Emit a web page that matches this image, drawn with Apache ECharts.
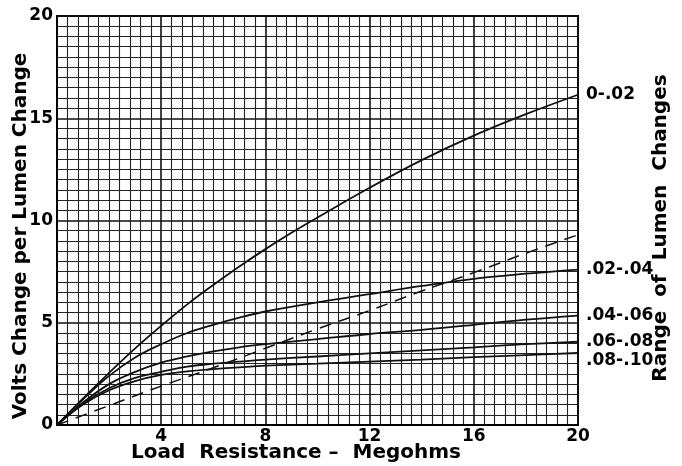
<!DOCTYPE html>
<html><head><meta charset="utf-8">
<script src="https://cdn.jsdelivr.net/npm/echarts@6/dist/echarts.min.js"></script>
<style>html,body{margin:0;padding:0;background:#fff}#c{width:682px;height:466px}</style>
</head><body><div id="c"></div>
<script>
const seriesNames = ["0-.02", ".02-.04", ".04-.06", ".06-.08", ".08-.10"];
const xTop = [0, 1, 2, 3, 4, 5, 6, 7, 8, 9, 10, 12, 14, 16, 18, 20];
const yTop = [0, 1.3, 2.55, 3.75, 4.85, 5.9, 6.85, 7.75, 8.6, 9.4, 10.15, 11.6, 12.95, 14.15, 15.2, 16.15];
const xLow = [0, 1, 2, 3, 4, 5, 6, 7, 8, 10, 12, 14, 16, 18, 20];
const y0204 = [0, 1.25, 2.4, 3.3, 3.95, 4.5, 4.9, 5.25, 5.55, 6.0, 6.4, 6.8, 7.15, 7.4, 7.6];
const y0406 = [0, 1.1, 2.0, 2.6, 3.05, 3.35, 3.6, 3.8, 3.95, 4.2, 4.45, 4.65, 4.9, 5.15, 5.35];
const y0608 = [0, 1.05, 1.8, 2.3, 2.6, 2.85, 3.0, 3.1, 3.2, 3.35, 3.5, 3.65, 3.8, 3.95, 4.07];
const y0810 = [0, 1.0, 1.7, 2.15, 2.45, 2.62, 2.73, 2.82, 2.9, 3.0, 3.1, 3.2, 3.32, 3.42, 3.52];
const xDash = [0, 2, 4, 6, 8, 10, 12, 14, 16, 18, 20];
const yDash = [0, 0.95, 1.9, 2.8, 3.75, 4.7, 5.6, 6.55, 7.45, 8.4, 9.3];
const xTicks = [4, 8, 12, 16, 20];
const yTicks = [0, 5, 10, 15, 20];
const xTitle = 'Load  Resistance –  Megohms';
const yTitle = 'Volts Change per Lumen Change';
const rightTitle = 'Range  of  Lumen  Changes';

const pair = (xs, ys) => xs.map((x, i) => [x, ys[i]]);
const FONT = '"DejaVu Sans", sans-serif';
const lineData = [pair(xTop, yTop), pair(xLow, y0204), pair(xLow, y0406), pair(xLow, y0608), pair(xLow, y0810)];
const labelOffsets = [[0, 0], [0, 0], [0, 0], [0, 0], [0, 8]];

const series = lineData.map((d, i) => ({
  name: seriesNames[i], type: 'line', data: d, smooth: 0.4, symbol: 'none',
  lineStyle: { color: '#111', width: 1.8 },
  endLabel: { show: true, formatter: seriesNames[i], color: '#000', fontFamily: FONT,
    fontWeight: 'bold', fontSize: 17, offset: labelOffsets[i] },
  z: 5
}));
series.push({
  name: 'dashed', type: 'line', data: pair(xDash, yDash), smooth: true, symbol: 'none',
  lineStyle: { color: '#111', width: 1.5, type: [12, 8] }, z: 5
});

const chart = echarts.init(document.getElementById('c'));
chart.setOption({
  animation: false,
  backgroundColor: '#fff',
  grid: { left: 57, right: 104, top: 16, bottom: 41, show: true, borderColor: '#000', borderWidth: 2,
    containLabel: false, outerBoundsMode: 'none' },
  xAxis: {
    type: 'value', min: 0, max: 20, interval: 4,
    axisLine: { show: true, lineStyle: { color: '#000', width: 2 } },
    axisTick: { show: false },
    axisLabel: { color: '#000', fontFamily: FONT, fontWeight: 'bold', fontSize: 17, margin: 3,
      formatter: v => xTicks.includes(v) ? String(v) : '' },
    splitLine: { show: true, lineStyle: { color: '#111', width: 1.6 } },
    minorTick: { show: false, splitNumber: 10 },
    minorSplitLine: { show: true, lineStyle: { color: '#222', width: 1.1 } }
  },
  yAxis: {
    type: 'value', min: 0, max: 20, interval: 5,
    axisLine: { show: true, lineStyle: { color: '#000', width: 2 } },
    axisTick: { show: false },
    axisLabel: { color: '#000', fontFamily: FONT, fontWeight: 'bold', fontSize: 17, margin: 4,
      formatter: v => yTicks.includes(v) ? String(v) : '' },
    splitLine: { show: true, lineStyle: { color: '#111', width: 1.6 } },
    minorTick: { show: false, splitNumber: 10 },
    minorSplitLine: { show: true, lineStyle: { color: '#222', width: 1.1 } }
  },
  graphic: [{
    type: 'text', x: 296, y: 453,
    style: { text: xTitle, fill: '#000', font: 'bold 20px ' + FONT, align: 'center', verticalAlign: 'middle' }
  }, {
    type: 'text', x: 21, y: 236, rotation: Math.PI / 2,
    style: { text: yTitle, fill: '#000', font: 'bold 20px ' + FONT, align: 'center', verticalAlign: 'middle' }
  }, {
    type: 'text', x: 661, y: 228, rotation: Math.PI / 2,
    style: { text: rightTitle, fill: '#000', font: 'bold 20px ' + FONT, align: 'center', verticalAlign: 'middle' }
  }],
  series: series
});
</script></body></html>
